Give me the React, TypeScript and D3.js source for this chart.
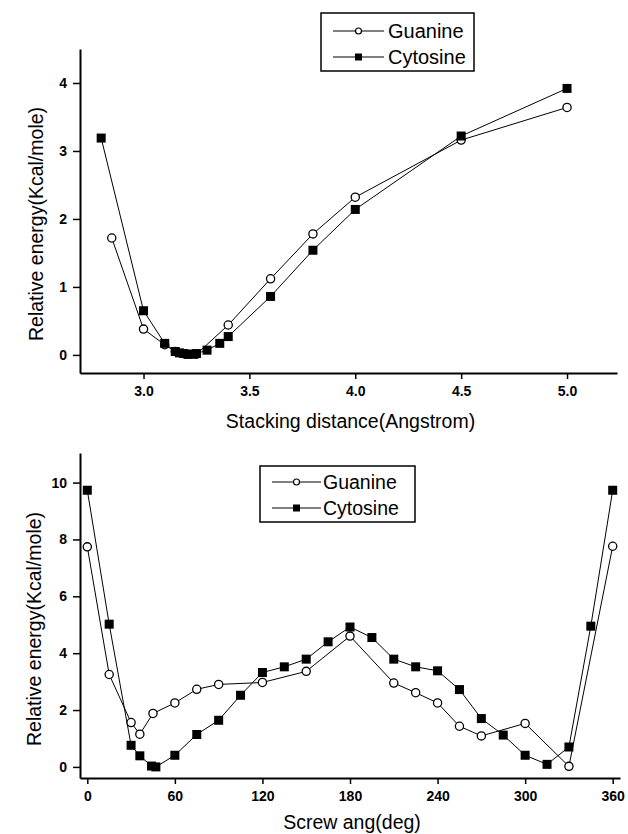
import React, { useEffect, useRef } from 'react';
import * as d3 from 'd3';

// --- stacking distance scan (top panel) ---
const distGuanine = [2.85, 3.0, 3.1, 3.15, 3.2, 3.25, 3.4, 3.6, 3.8, 4.0, 4.5, 5.0];
const energyGuanineDist = [1.72, 0.38, 0.15, 0.05, 0.01, 0.01, 0.44, 1.12, 1.78, 2.32, 3.16, 3.64];
const distCytosine = [2.8, 3.0, 3.1, 3.15, 3.17, 3.19, 3.21, 3.23, 3.25, 3.3, 3.36, 3.4, 3.6, 3.8, 4.0, 4.5, 5.0];
const energyCytosineDist = [3.19, 0.65, 0.17, 0.05, 0.03, 0.02, 0.01, 0.01, 0.02, 0.07, 0.17, 0.27, 0.86, 1.54, 2.14, 3.22, 3.92];
const distTicks = [3.0, 3.5, 4.0, 4.5, 5.0];
const energyTicksTop = [0, 1, 2, 3, 4];

// --- screw angle scan (bottom panel) ---
const angGuanine = [0, 15, 30, 36, 45, 60, 75, 90, 120, 150, 180, 210, 225, 240, 255, 270, 300, 330, 360];
const energyGuanineAng = [7.74, 3.25, 1.56, 1.15, 1.88, 2.25, 2.73, 2.9, 2.97, 3.36, 4.6, 2.95, 2.61, 2.25, 1.43, 1.09, 1.53, 0.02, 7.76];
const angCytosine = [0, 15, 30, 36, 44, 47, 60, 75, 90, 105, 120, 135, 150, 165, 180, 195, 210, 225, 240, 255, 270, 285, 300, 315, 330, 345, 360];
const energyCytosineAng = [9.73, 5.02, 0.76, 0.39, 0.03, 0.0, 0.41, 1.14, 1.64, 2.52, 3.32, 3.52, 3.79, 4.4, 4.92, 4.55, 3.79, 3.52, 3.38, 2.72, 1.7, 1.12, 0.41, 0.09, 0.7, 4.95, 9.73];
const angTicks = [0, 60, 120, 180, 240, 300, 360];
const energyTicksBottom = [0, 2, 4, 6, 8, 10];

const seriesNames = ['Guanine', 'Cytosine'];
const yTitle = 'Relative energy(Kcal/mole)';

const FONT = '"Liberation Sans", Arial, Helvetica, sans-serif';

type Panel = {
  xDomain: [number, number];
  yDomain: [number, number];
  left: number; right: number; top: number; bottom: number;
  xTicks: number[]; yTicks: number[]; xFormat: (d: number) => string;
  gx: number[]; gy: number[]; cx: number[]; cy: number[];
  xTitle: string; xTitleY: number; yTitleX: number; yTitleY: number;
  legend: { x: number; y: number; w: number; h: number; lineX0: number; lineX1: number; textX: number; rows: number[]; fontSize: number };
};

const drawPanel = (svg: d3.Selection<SVGSVGElement, unknown, null, undefined>, p: Panel) => {
  const x = d3.scaleLinear().domain(p.xDomain).range([p.left, p.right]);
  const y = d3.scaleLinear().domain(p.yDomain).range([p.bottom, p.top]);

  // axes: only left + bottom, outward ticks
  const xAxis = svg.append('g')
    .attr('transform', `translate(0,${p.bottom})`)
    .call(d3.axisBottom(x).tickValues(p.xTicks).tickFormat(p.xFormat as any).tickSize(6).tickSizeOuter(0).tickPadding(7));
  const yAxis = svg.append('g')
    .attr('transform', `translate(${p.left},0)`)
    .call(d3.axisLeft(y).tickValues(p.yTicks).tickFormat(d3.format('d') as any).tickSize(7).tickSizeOuter(0).tickPadding(6));
  [xAxis, yAxis].forEach(a => {
    a.select('.domain').attr('stroke', '#000').attr('stroke-width', 2);
    a.selectAll('.tick line').attr('stroke', '#000').attr('stroke-width', 1.5);
    a.selectAll('.tick text')
      .attr('fill', '#000')
      .style('font-family', FONT)
      .style('font-size', '14px')
      .style('font-weight', 'bold');
  });

  const line = d3.line<[number, number]>().x(d => x(d[0])).y(d => y(d[1]));
  const gPts: [number, number][] = p.gx.map((v, i) => [v, p.gy[i]]);
  const cPts: [number, number][] = p.cx.map((v, i) => [v, p.cy[i]]);

  svg.append('path').datum(gPts).attr('d', line).attr('fill', 'none').attr('stroke', '#000').attr('stroke-width', 1);
  svg.append('path').datum(cPts).attr('d', line).attr('fill', 'none').attr('stroke', '#000').attr('stroke-width', 1);

  svg.append('g').selectAll('circle').data(gPts).enter().append('circle')
    .attr('cx', d => x(d[0])).attr('cy', d => y(d[1])).attr('r', 4.1)
    .attr('fill', '#fff').attr('stroke', '#000').attr('stroke-width', 1.3);
  svg.append('g').selectAll('rect').data(cPts).enter().append('rect')
    .attr('x', d => x(d[0]) - 4.5).attr('y', d => y(d[1]) - 4.5).attr('width', 9).attr('height', 9)
    .attr('fill', '#000');

  // axis titles
  svg.append('text')
    .attr('x', (p.left + p.right) / 2 + 2).attr('y', p.xTitleY)
    .attr('text-anchor', 'middle')
    .style('font-family', FONT).style('font-size', '19.5px')
    .text(p.xTitle);
  svg.append('text')
    .attr('transform', `translate(${p.yTitleX},${p.yTitleY}) rotate(-90)`)
    .attr('text-anchor', 'middle')
    .style('font-family', FONT).style('font-size', '19.5px')
    .text(yTitle);

  // legend box
  const L = p.legend;
  const lg = svg.append('g');
  lg.append('rect').attr('x', L.x).attr('y', L.y).attr('width', L.w).attr('height', L.h)
    .attr('fill', '#fff').attr('stroke', '#000').attr('stroke-width', 1.5);
  seriesNames.forEach((name, i) => {
    const ry = L.rows[i];
    const mx = (L.lineX0 + L.lineX1) / 2;
    lg.append('line').attr('x1', L.lineX0).attr('x2', L.lineX1).attr('y1', ry).attr('y2', ry)
      .attr('stroke', '#000').attr('stroke-width', 1);
    if (i === 0) {
      lg.append('circle').attr('cx', mx).attr('cy', ry).attr('r', 3)
        .attr('fill', '#fff').attr('stroke', '#000').attr('stroke-width', 1.2);
    } else {
      lg.append('rect').attr('x', mx - 3.5).attr('y', ry - 3.5).attr('width', 7).attr('height', 7).attr('fill', '#000');
    }
    lg.append('text').attr('x', L.textX).attr('y', ry).attr('dy', '0.36em')
      .style('font-family', FONT).style('font-size', `${L.fontSize}px`)
      .text(name);
  });
};

const App = () => {
  const ref = useRef<SVGSVGElement | null>(null);

  useEffect(() => {
    if (!ref.current) return;
    const svg = d3.select(ref.current);
    svg.selectAll('*').remove();

    drawPanel(svg, {
      xDomain: [2.7, 5.236], yDomain: [-0.266, 4.5],
      left: 80, right: 617, top: 49, bottom: 373,
      xTicks: distTicks, yTicks: energyTicksTop, xFormat: d3.format('.1f'),
      gx: distGuanine, gy: energyGuanineDist, cx: distCytosine, cy: energyCytosineDist,
      xTitle: 'Stacking distance(Angstrom)', xTitleY: 428, yTitleX: 43, yTitleY: 224,
      legend: { x: 321, y: 13, w: 153, h: 58, lineX0: 333, lineX1: 384, textX: 388, rows: [31, 57], fontSize: 20 },
    });

    drawPanel(svg, {
      xDomain: [-5, 365], yDomain: [-0.39, 11.04],
      left: 80, right: 620, top: 453, bottom: 778,
      xTicks: angTicks, yTicks: energyTicksBottom, xFormat: d3.format('d'),
      gx: angGuanine, gy: energyGuanineAng, cx: angCytosine, cy: energyCytosineAng,
      xTitle: 'Screw ang(deg)', xTitleY: 829, yTitleX: 41, yTitleY: 629,
      legend: { x: 260, y: 466, w: 155, h: 56, lineX0: 272, lineX1: 321, textX: 323, rows: [482, 508], fontSize: 19.5 },
    });
  }, []);

  return (
    <svg
      ref={ref}
      width={628}
      height={834}
      style={{ position: 'absolute', left: 0, top: 0, background: '#fff' }}
    />
  );
};

export default App;
